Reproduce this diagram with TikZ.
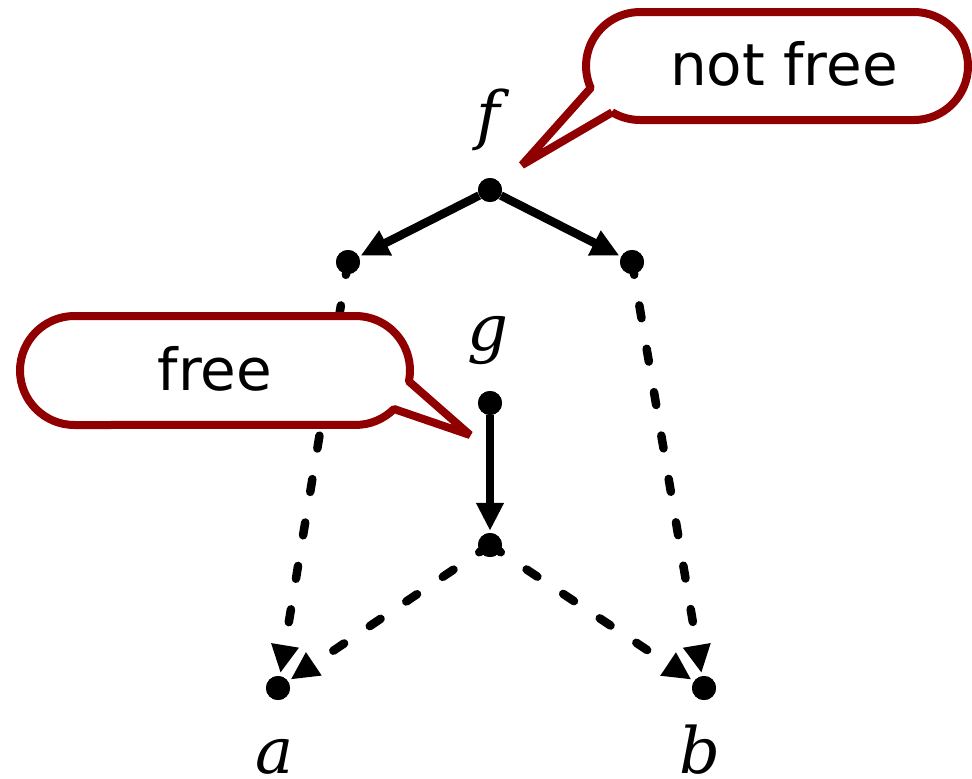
\documentclass[tikz,border=0pt]{standalone}
\usepackage{fontspec}
\setmainfont{DejaVu Sans}
\newfontfamily\varfont{DejaVu Serif}
\usetikzlibrary{arrows.meta}
\definecolor{calloutred}{RGB}{145,0,0}
\tikzset{
  dot/.style={circle,fill=black,inner sep=0pt,minimum size=24pt},
  solidarrow/.style={line width=8.5pt,-{Triangle[length=28pt,width=26pt]},shorten >=2pt},
  dasharrow/.style={line width=8.5pt,line cap=round,dash pattern=on 13pt off 31pt,-{Triangle[length=28pt,width=26pt]},shorten >=3pt},
  varlabel/.style={anchor=base,inner sep=0pt,font=\varfont\itshape\fontsize{64}{64}\selectfont},
  callout/.style={draw=calloutred,fill=white,line width=8pt,line join=bevel},
  callouttext/.style={anchor=base,inner sep=0pt,font=\fontsize{58}{58}\selectfont}
}
\begin{document}
\begin{tikzpicture}[x=1pt,y=-1pt]
\useasboundingbox (0,0) rectangle (972,779);
% nodes
\node[dot] (f) at (490,190) {};
\node[dot] (l) at (348,262) {};
\node[dot] (r) at (632,262) {};
\node[dot] (g) at (490,403) {};
\node[dot] (m) at (490,545) {};
\node[dot] (a) at (278,688) {};
\node[dot] (b) at (704,688) {};
% labels
\node[varlabel] (fl) at (488,137) {f};
\node[varlabel] (gl) at (488,350) {g};
\node[varlabel] (al) at (275,773) {a};
\node[varlabel] (bl) at (700,773) {b};
% edges
\draw[solidarrow] (f) -- (l);
\draw[solidarrow] (f) -- (r);
\draw[solidarrow] (g) -- (m);
\draw[dasharrow] (l.center) -- (a);
\draw[dasharrow] (r.center) -- (b);
\draw[dasharrow] (m.center) -- (a);
\draw[dasharrow] (m.center) -- (b);
% re-draw dots on top
\foreach \n in {f,l,r,g,m,a,b} \fill (\n.center) circle (12);
% callout: not free
\coordinate (nftip) at (522,165);
\draw[callout] (612.2,112.3) -- (nftip) -- (590.7,88)
  arc[start angle=156,end angle=270,radius=54] -- (914,12)
  arc[start angle=270,end angle=450,radius=54] -- (640,120)
  arc[start angle=90,end angle=121,radius=54] -- cycle;
\node[callouttext] (nft) at (784,85) {not free};
% callout: free
\coordinate (ftip) at (470,435);
\draw[callout] (74.5,316) -- (355.5,316)
  arc[start angle=270,end angle=371.5,radius=54.5] -- (ftip) -- (394,409)
  arc[start angle=45,end angle=90,radius=54.5] -- (74.5,425)
  arc[start angle=90,end angle=270,radius=54.5] -- cycle;
\node[callouttext] (ft) at (215,390) {free};
\end{tikzpicture}
\end{document}
